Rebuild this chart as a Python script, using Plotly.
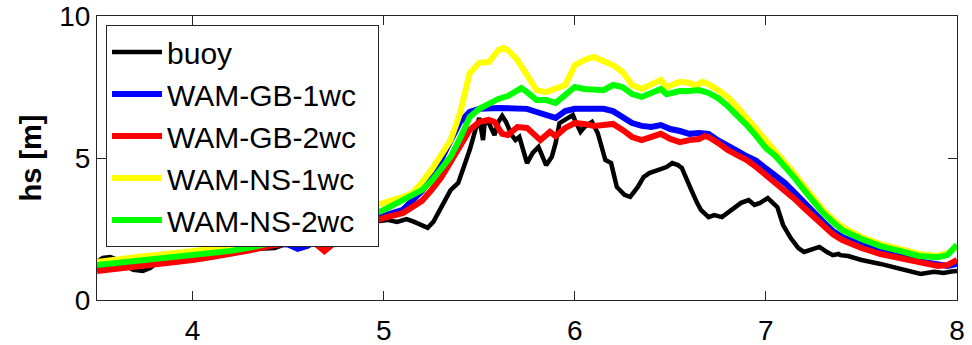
import plotly.graph_objects as go

# ---- data (time in days, hs in m) ----
buoy_t = [3.5, 3.53, 3.57, 3.61, 3.65, 3.69, 3.74, 3.78, 3.81, 3.84, 3.93, 4.03, 4.19, 4.35, 4.43,
          4.54, 4.69, 4.85, 4.96, 4.98, 5.02, 5.07, 5.12, 5.16, 5.2, 5.23, 5.26, 5.31, 5.35, 5.39,
          5.42, 5.45, 5.48, 5.5, 5.52, 5.53, 5.55, 5.58, 5.6, 5.62, 5.64, 5.67, 5.69, 5.71, 5.75,
          5.78, 5.81, 5.85, 5.88, 5.9, 5.92, 5.95, 5.99, 6.0, 6.03, 6.05, 6.09, 6.12, 6.16, 6.19,
          6.22, 6.26, 6.29, 6.33, 6.36, 6.39, 6.43, 6.48, 6.51, 6.54, 6.56, 6.59, 6.61, 6.64, 6.66,
          6.7, 6.73, 6.77, 6.82, 6.87, 6.91, 6.94, 6.97, 7.01, 7.06, 7.09, 7.13, 7.17, 7.2, 7.23,
          7.28, 7.32, 7.35, 7.38, 7.39, 7.43, 7.5, 7.6, 7.71, 7.81, 7.88, 7.93, 7.97, 8.0]
buoy_hs = [1.34, 1.48, 1.51, 1.41, 1.2, 1.06, 1.02, 1.13, 1.3, 1.44, 1.58, 1.69, 1.76, 1.8, 1.83,
           2.1, 2.3, 2.6, 2.82, 2.78, 2.82, 2.75, 2.85, 2.75, 2.61, 2.54, 2.75, 3.35, 3.87, 4.12,
           4.68, 5.28, 5.99, 6.41, 5.63, 6.34, 6.23, 5.81, 6.27, 6.48, 6.27, 5.81, 5.63, 5.74, 4.82,
           5.18, 5.39, 4.75, 5.04, 5.53, 6.23, 6.34, 6.51, 6.34, 5.92, 6.09, 6.27, 5.88, 4.93, 4.82,
           3.98, 3.7, 3.63, 3.98, 4.33, 4.47, 4.58, 4.68, 4.82, 4.75, 4.65, 4.23, 3.87, 3.42, 3.17,
           2.92, 2.99, 2.92, 3.17, 3.42, 3.52, 3.35, 3.42, 3.59, 3.27, 2.64, 2.18, 1.83, 1.69, 1.76,
           1.87, 1.69, 1.58, 1.62, 1.58, 1.55, 1.41, 1.27, 1.09, 0.92, 0.99, 0.95, 1.0, 1.02]

gb1_t = [3.5, 3.6, 3.7, 3.8, 3.9, 4.0, 4.1, 4.2, 4.3, 4.4, 4.5, 4.55, 4.6, 4.65, 4.7, 4.8, 4.9,
         5.0, 5.1, 5.2, 5.25, 5.3, 5.35, 5.4, 5.45, 5.5, 5.6, 5.7, 5.75, 5.8, 5.85, 5.9, 5.95,
         6.0, 6.1, 6.15, 6.2, 6.25, 6.3, 6.35, 6.4, 6.45, 6.5, 6.55, 6.6, 6.65, 6.7, 6.75, 6.8,
         6.85, 6.9, 6.95, 7.0, 7.05, 7.1, 7.15, 7.2, 7.25, 7.3, 7.35, 7.4, 7.5, 7.6, 7.7, 7.8,
         7.9, 7.95, 8.0]
gb1_hs = [1.13, 1.2, 1.23, 1.3, 1.34, 1.44, 1.55, 1.65, 1.85, 1.98, 1.95, 1.8, 1.9, 2.1, 2.3,
          2.55, 2.8, 2.96, 3.17, 3.84, 4.3, 4.93, 5.6, 6.27, 6.62, 6.73, 6.76, 6.76, 6.73, 6.62,
          6.51, 6.41, 6.65, 6.73, 6.73, 6.73, 6.65, 6.44, 6.23, 6.13, 6.09, 6.16, 6.02, 5.95, 5.85,
          5.88, 5.85, 5.62, 5.46, 5.25, 5.06, 4.9, 4.63, 4.4, 4.12, 3.78, 3.42, 3.1, 2.75, 2.43,
          2.22, 1.94, 1.73, 1.55, 1.37, 1.23, 1.2, 1.27]

gb2_t = [3.5, 3.6, 3.7, 3.8, 3.9, 4.0, 4.1, 4.2, 4.3, 4.4, 4.5, 4.6, 4.65, 4.69, 4.73, 4.8, 4.9,
         5.0, 5.1, 5.2, 5.25, 5.3, 5.35, 5.4, 5.45, 5.5, 5.55, 5.58, 5.62, 5.65, 5.7, 5.75, 5.8,
         5.82, 5.87, 5.9, 5.95, 6.0, 6.05, 6.1, 6.15, 6.2, 6.25, 6.3, 6.35, 6.4, 6.45, 6.5, 6.55,
         6.6, 6.65, 6.68, 6.7, 6.75, 6.8, 6.85, 6.9, 6.95, 7.0, 7.05, 7.1, 7.15, 7.2, 7.25, 7.3,
         7.35, 7.4, 7.5, 7.6, 7.7, 7.8, 7.9, 7.95, 8.0]
gb2_hs = [1.02, 1.09, 1.16, 1.23, 1.3, 1.41, 1.51, 1.62, 1.75, 1.9, 2.0, 2.1, 1.95, 1.72, 1.95,
          2.3, 2.65, 2.89, 3.06, 3.49, 3.87, 4.3, 4.86, 5.42, 5.99, 6.27, 6.34, 6.27, 5.85, 5.81,
          6.09, 6.06, 5.74, 5.63, 5.92, 5.77, 6.06, 6.23, 6.2, 6.13, 6.16, 6.2, 5.99, 5.74, 5.63,
          5.74, 5.85, 5.67, 5.56, 5.63, 5.67, 5.77, 5.74, 5.53, 5.28, 5.1, 4.93, 4.68, 4.4, 4.15,
          3.87, 3.56, 3.24, 2.92, 2.61, 2.32, 2.11, 1.83, 1.62, 1.48, 1.3, 1.2, 1.23, 1.41]

ns1_t = [3.5, 3.6, 3.7, 3.8, 3.9, 4.0, 4.1, 4.2, 4.3, 4.4, 4.5, 4.6, 4.7, 4.8, 4.9, 5.0, 5.1,
         5.15, 5.2, 5.25, 5.3, 5.35, 5.4, 5.45, 5.5, 5.55, 5.6, 5.63, 5.65, 5.7, 5.75, 5.8, 5.85,
         5.9, 5.95, 6.0, 6.05, 6.1, 6.15, 6.2, 6.25, 6.3, 6.35, 6.4, 6.45, 6.48, 6.52, 6.55, 6.6,
         6.63, 6.67, 6.7, 6.75, 6.8, 6.85, 6.9, 6.95, 7.0, 7.05, 7.1, 7.15, 7.2, 7.25, 7.3, 7.35,
         7.4, 7.5, 7.6, 7.7, 7.8, 7.9, 7.95, 8.0]
ns1_hs = [1.34, 1.44, 1.51, 1.58, 1.65, 1.73, 1.8, 1.87, 2.0, 2.15, 2.3, 2.5, 2.7, 2.95, 3.2,
          3.42, 3.63, 3.77, 4.15, 4.58, 5.1, 5.63, 6.58, 7.99, 8.35, 8.38, 8.8, 8.87, 8.8, 8.45,
          7.92, 7.39, 7.32, 7.46, 7.57, 8.27, 8.45, 8.56, 8.42, 8.27, 8.03, 7.57, 7.43, 7.57, 7.75,
          7.5, 7.6, 7.68, 7.64, 7.55, 7.68, 7.6, 7.39, 7.15, 6.8, 6.41, 6.06, 5.63, 5.28, 4.86,
          4.44, 4.01, 3.59, 3.17, 2.85, 2.57, 2.22, 1.97, 1.8, 1.62, 1.55, 1.65, 1.87]

ns2_t = [3.5, 3.6, 3.7, 3.8, 3.9, 4.0, 4.1, 4.2, 4.3, 4.4, 4.5, 4.6, 4.7, 4.8, 4.9, 5.0, 5.1,
         5.2, 5.25, 5.3, 5.35, 5.4, 5.45, 5.5, 5.55, 5.6, 5.65, 5.7, 5.72, 5.75, 5.8, 5.85, 5.9,
         5.95, 6.0, 6.05, 6.1, 6.15, 6.2, 6.25, 6.3, 6.35, 6.4, 6.45, 6.48, 6.52, 6.55, 6.6, 6.65,
         6.7, 6.75, 6.8, 6.85, 6.9, 6.95, 7.0, 7.05, 7.1, 7.15, 7.2, 7.25, 7.3, 7.35, 7.4, 7.5,
         7.6, 7.7, 7.8, 7.9, 7.95, 8.0]
ns2_hs = [1.23, 1.3, 1.37, 1.44, 1.51, 1.58, 1.65, 1.73, 1.85, 1.98, 2.12, 2.28, 2.45, 2.65, 2.9,
          3.17, 3.52, 3.87, 4.19, 4.58, 5.04, 5.7, 6.44, 6.73, 6.9, 7.08, 7.18, 7.39, 7.46, 7.32,
          7.04, 7.04, 6.94, 7.22, 7.5, 7.43, 7.43, 7.39, 7.57, 7.5, 7.25, 7.15, 7.29, 7.43, 7.25,
          7.32, 7.36, 7.36, 7.39, 7.29, 7.11, 6.83, 6.51, 6.16, 5.77, 5.35, 5.07, 4.72, 4.3, 3.87,
          3.45, 3.06, 2.75, 2.46, 2.15, 1.9, 1.73, 1.55, 1.51, 1.58, 1.94]

series = [
    ("buoy", buoy_t, buoy_hs, "#000000", 4.5),
    ("WAM-GB-1wc", gb1_t, gb1_hs, "#0000ff", 6),
    ("WAM-GB-2wc", gb2_t, gb2_hs, "#ff0000", 6),
    ("WAM-NS-1wc", ns1_t, ns1_hs, "#ffff00", 6),
    ("WAM-NS-2wc", ns2_t, ns2_hs, "#00ff00", 6),
]

x_ticks = [4, 5, 6, 7, 8]
y_ticks = [0, 5, 10]

FONT = "Liberation Sans, Arial, Helvetica, sans-serif"
AXC = "#262626"
PAD = "\u00a0\u00a0"

fig = go.Figure()
for name, t, hs, color, w in series:
    fig.add_trace(go.Scatter(x=t, y=hs, mode="lines", name=name + PAD,
                             line=dict(color=color, width=w)))

fig.update_layout(
    width=972, height=345,
    margin=dict(l=97, r=15, t=16, b=45),
    paper_bgcolor="white", plot_bgcolor="white",
    font=dict(family=FONT, size=28, color="#000000"),
    showlegend=True,
    legend=dict(
        x=0.0105, y=0.968, xanchor="left", yanchor="top",
        bgcolor="white", bordercolor=AXC, borderwidth=1,
        font=dict(family=FONT, size=30, color="#000000"),
        itemwidth=50, tracegroupgap=0,
    ),
    xaxis=dict(
        range=[3.5, 8], tickvals=x_ticks, ticktext=[str(v) for v in x_ticks],
        ticks="inside", ticklen=9, tickwidth=1, tickcolor=AXC,
        showline=True, linecolor=AXC, linewidth=1, mirror="ticks",
        showgrid=False, zeroline=False, ticklabelstandoff=5, automargin=False,
    ),
    yaxis=dict(
        range=[0, 10], tickvals=y_ticks, ticktext=[str(v) for v in y_ticks],
        ticks="inside", ticklen=9, tickwidth=1, tickcolor=AXC,
        showline=True, linecolor=AXC, linewidth=1, mirror="ticks",
        showgrid=False, zeroline=False, automargin=False,
        title=dict(text="<b>hs [m]</b>", standoff=9,
                   font=dict(family=FONT, size=29, color="#000000")),
    ),
)

fig.write_html("out.html")
